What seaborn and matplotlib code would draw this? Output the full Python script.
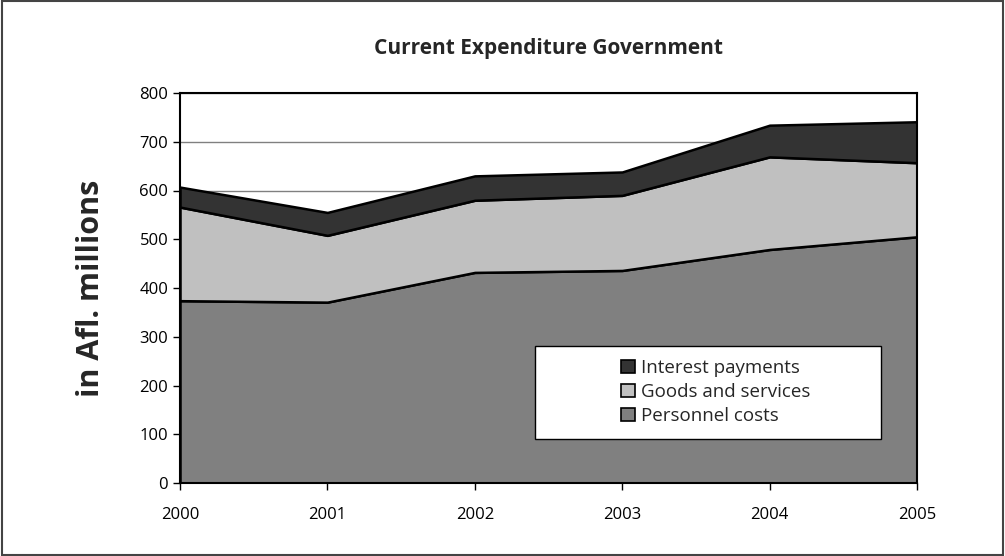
import numpy as np
import matplotlib
matplotlib.use("Agg")
import matplotlib.pyplot as plt
import seaborn as sns
from matplotlib.patches import Rectangle

years = [2000, 2001, 2002, 2003, 2004, 2005]
personnel = [374, 371, 432, 436, 479, 505]
goods = [192, 137, 148, 154, 190, 152]
interest = [41, 47, 50, 48, 65, 84]

labels = ["Personnel costs", "Goods and services", "Interest payments"]
colors = ["#808080", "#c0c0c0", "#333333"]

sns.set_theme(style="white")
plt.rcParams["font.family"] = ["Open Sans", "DejaVu Sans"]

fig = plt.figure(figsize=(10.05, 5.56), dpi=100)
ax = fig.add_axes([180 / 1005, 1 - 483 / 556, (917 - 180) / 1005, (483 - 93) / 556])

# gridlines under the areas
ax.set_axisbelow(True)
ax.yaxis.grid(True, color="#808080", linewidth=1)

ax.stackplot(years, personnel, goods, interest, labels=labels,
             colors=colors, edgecolor="black", linewidth=1.8, zorder=2)

ax.set_xlim(2000, 2005)
ax.set_ylim(0, 800)
ax.set_yticks(range(0, 801, 100))
ax.set_xticks(years)
ax.tick_params(axis="both", labelsize=12, colors="black", length=5, width=1,
               direction="out", left=True, bottom=True)
ax.tick_params(axis="x", pad=12)
for s in ax.spines.values():
    s.set_color("black")
    s.set_linewidth(1.5)

ax.set_title("Current Expenditure Government", fontsize=15, fontweight="bold", pad=28)
ax.set_ylabel("in Afl. millions", fontsize=22, fontweight="bold", labelpad=24)

# legend box, drawn by hand so the entries can sit centred in it
ax.add_patch(Rectangle(((535 - 180) / 737, (483 - 439) / 390), 346 / 737, 93 / 390,
                       transform=ax.transAxes, facecolor="white", edgecolor="black",
                       linewidth=1, zorder=4))
handles, lbls = ax.get_legend_handles_labels()
leg = ax.legend(handles[::-1], lbls[::-1], loc="center left",
                bbox_to_anchor=((612 - 180) / 737, (483 - 392) / 390),
                fontsize=13.5, frameon=False, handlelength=0.75, handleheight=0.75,
                handletextpad=0.3, borderpad=0, labelspacing=0.32)
leg.set_zorder(5)
for h in leg.legend_handles:
    h.set_edgecolor("black")
    h.set_linewidth(1.2)

fig.patches.append(Rectangle((0.002, 0.002), 0.996, 0.996, transform=fig.transFigure,
                             fill=False, edgecolor="#444444", linewidth=1.5))

fig.savefig("out.png", dpi=100)
